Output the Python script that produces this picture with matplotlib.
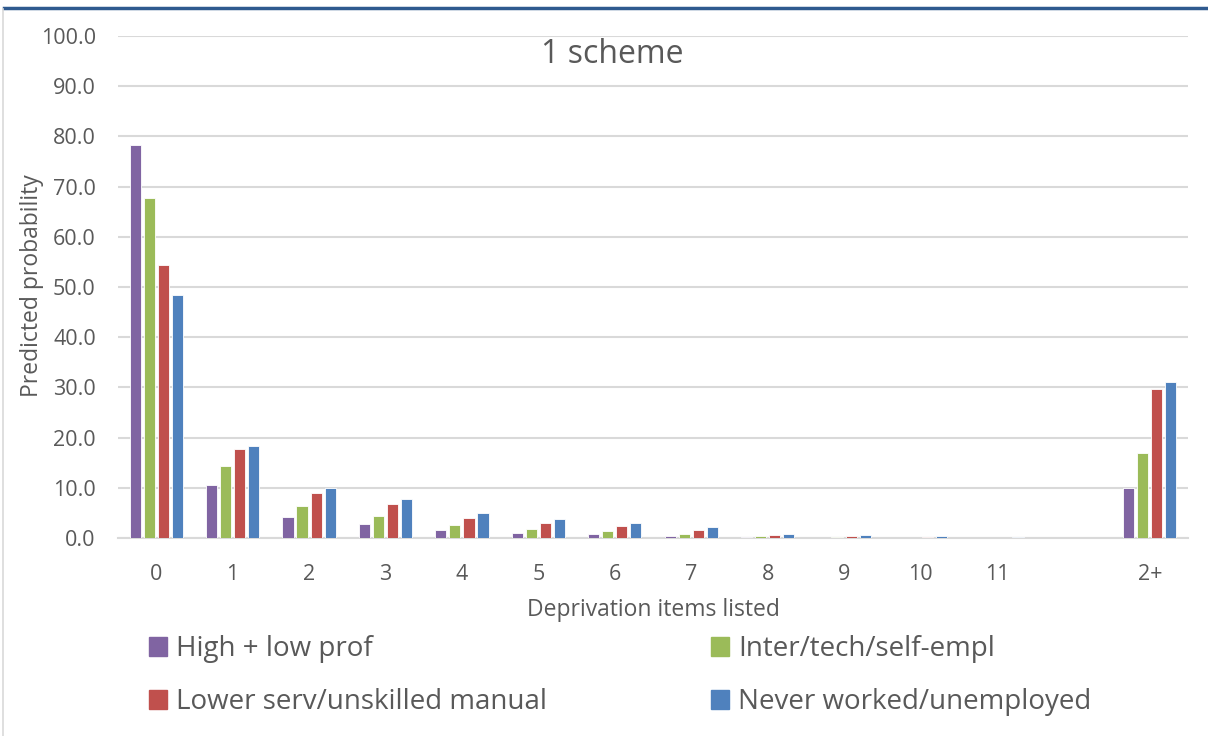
import numpy as np
import matplotlib.pyplot as plt
from matplotlib.patches import Patch
from matplotlib.lines import Line2D

plt.rcParams['font.family'] = ['Open Sans', 'DejaVu Sans']

categories = ['0', '1', '2', '3', '4', '5', '6', '7', '8', '9', '10', '11', '', '2+']
series = ['High + low prof', 'Inter/tech/self-empl',
          'Lower serv/unskilled manual', 'Never worked/unemployed']
high_low_prof = [78.3, 10.6, 4.2, 2.7, 1.5, 0.9, 0.7, 0.4, 0.1, 0.05, 0.02, 0.01, 0, 10.0]
inter_tech = [67.7, 14.3, 6.4, 4.4, 2.5, 1.7, 1.3, 0.8, 0.35, 0.1, 0.05, 0.02, 0, 16.9]
lower_serv = [54.4, 17.7, 9.0, 6.7, 4.0, 3.0, 2.3, 1.6, 0.5, 0.3, 0.15, 0.05, 0, 29.6]
never_worked = [48.4, 18.3, 10.0, 7.8, 4.9, 3.8, 3.0, 2.1, 0.7, 0.5, 0.3, 0.1, 0, 31.0]
colours = ['#8064A2', '#9BBB59', '#C0504D', '#4F81BD']

fig = plt.figure(figsize=(12.08, 7.36), dpi=100)
ax = fig.add_axes([118/1208, 1-538/736, (1188-118)/1208, (538-36)/736])

x = np.arange(len(categories))
w = 0.145
step = 0.184
for i, vals in enumerate([high_low_prof, inter_tech, lower_serv, never_worked]):
    ax.bar(x + (i-1.5)*step, vals, width=w, color=colours[i],
           edgecolor='white', linewidth=0.6, zorder=3)

ax.set_xlim(-0.5, 13.5)
ax.set_ylim(0, 100)
ax.set_yticks(np.arange(0, 101, 10))
ax.yaxis.set_major_formatter(lambda v, p: "{0:.1f}".format(v))
ax.set_xticks(x)
ax.set_xticklabels(categories)
ax.grid(axis='y', color='#D9D9D9', linewidth=1.5, zorder=0)
for s in ['top', 'right', 'left']:
    ax.spines[s].set_visible(False)
ax.spines['bottom'].set_color('#D9D9D9')
ax.spines['bottom'].set_linewidth(1.5)
ax.tick_params(axis='both', length=0, labelsize=15.5, colors='#595959')
ax.tick_params(axis='y', pad=16)
ax.tick_params(axis='x', pad=19)

ax.set_xlabel('Deprivation items listed', fontsize=16.5, color='#595959', labelpad=9)
ax.set_ylabel('Predicted probability', fontsize=16.5, color='#595959')
ax.yaxis.set_label_coords(-0.0692, 0.503)
ax.text(0.4617, 0.946, '1 scheme', transform=ax.transAxes, ha='center', va='baseline',
        fontsize=23, color='#595959')

handles = [Patch(color=colours[0]), Patch(color=colours[2]),
           Patch(color=colours[1]), Patch(color=colours[3])]
labels = [series[0], series[2], series[1], series[3]]
fig.legend(handles, labels, ncol=2, loc='upper left',
           bbox_to_anchor=(124/1208, 1-610/736), frameon=False,
           fontsize=20, labelcolor='#595959', handlelength=0.65, handleheight=0.65,
           handletextpad=0.32, columnspacing=5.9, labelspacing=0.9)

fig.add_artist(Line2D([4/1208, 1], [1-8/736, 1-8/736], color='#2F5A8F', linewidth=2.5))
fig.add_artist(Line2D([3/1208, 3/1208], [0, 1-9/736], color='#D9D9D9', linewidth=1.2))

fig.savefig('out.png', dpi=100)
